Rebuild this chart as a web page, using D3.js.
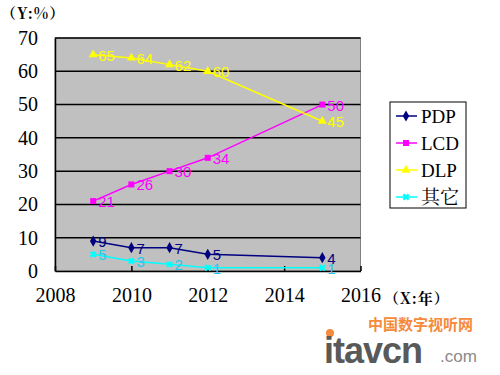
<!DOCTYPE html>
<html>
<head>
<meta charset="utf-8">
<script src="https://cdn.jsdelivr.net/npm/d3@7"></script>
<style>
  body { margin: 0; background: #fff; }
  svg { display: block; }
</style>
</head>
<body>
<svg width="500" height="375"></svg>
<script>
// data
var years = [2009, 2010, 2011, 2012, 2015]
var seriesNames = ["PDP", "LCD", "DLP", "其它"]
var pdp = [9, 7, 7, 5, 4]
var lcd = [21, 26, 30, 34, 50]
var dlp = [65, 64, 62, 60, 45]
var other = [5, 3, 2, 1, 1]
var xTicks = [2008, 2010, 2012, 2014, 2016]
var yTicks = [0, 10, 20, 30, 40, 50, 60, 70]

var lineColors = ["#000080", "#ff00ff", "#ffff00", "#00ffff"]
var labelColors = ["#000080", "#ff00ff", "#ffff00", "#22c8f0"]
var symbols = [d3.symbolDiamond, d3.symbolSquare, d3.symbolTriangle, d3.symbolCross]

var series = [pdp, lcd, dlp, other].map(function(vals, i) {
  return { name: seriesNames[i], values: vals.map(function(v, j) { return { x: years[j], y: v } }) }
})

var svg = d3.select("svg")

var x = d3.scaleLinear().domain([2008, 2016]).range([55, 360.5])
var y = d3.scaleLinear().domain([0, 70]).range([271, 38])

// plot background
svg.append("rect")
  .attr("x", x(2008)).attr("y", y(70))
  .attr("width", x(2016) - x(2008)).attr("height", y(0) - y(70))
  .attr("fill", "#c0c0c0")
  .attr("stroke", "#808080")

// gridlines
svg.append("g")
  .selectAll("line")
  .data(yTicks.slice(1))
  .enter().append("line")
    .attr("x1", x(2008)).attr("x2", x(2016))
    .attr("y1", function(d) { return y(d) }).attr("y2", function(d) { return y(d) })
    .attr("stroke", "#000").attr("stroke-width", 1.5)

// axes
var yAxis = svg.append("g")
  .attr("transform", "translate(" + x(2008) + ",0)")
  .call(d3.axisLeft(y).tickValues(yTicks).tickSize(0).tickPadding(17))
yAxis.select(".domain").attr("stroke", "#000").attr("stroke-width", 1.5)
yAxis.selectAll("text")
  .attr("font-family", "Liberation Serif").attr("font-size", 20).attr("fill", "#000")
yAxis.selectAll(".tick line").remove()

var xAxis = svg.append("g")
  .attr("transform", "translate(0," + y(0) + ")")
  .call(d3.axisBottom(x).tickValues(xTicks).tickFormat(d3.format("d")).tickSizeInner(-5).tickSizeOuter(0).tickPadding(17))
xAxis.select(".domain").attr("stroke", "#000").attr("stroke-width", 1.5)
xAxis.selectAll(".tick line").attr("stroke", "#000").attr("stroke-width", 1.5)
xAxis.selectAll("text")
  .attr("font-family", "Liberation Serif").attr("font-size", 20).attr("fill", "#000")

// axis titles
svg.append("text")
  .attr("x", 1).attr("y", 19)
  .attr("font-family", "Noto Serif CJK SC").attr("font-weight", "bold")
  .attr("font-size", 15).attr("letter-spacing", 1)
  .text("（Y:%）")
svg.append("text")
  .attr("x", 384).attr("y", 304)
  .attr("font-family", "Noto Serif CJK SC").attr("font-weight", "bold")
  .attr("font-size", 15).attr("letter-spacing", 1)
  .text("（X:年）")

// lines
var line = d3.line()
  .x(function(d) { return x(d.x) })
  .y(function(d) { return y(d.y) })

var sg = svg.selectAll(".series")
  .data(series)
  .enter().append("g")
    .attr("class", "series")

sg.append("path")
  .attr("d", function(d) { return line(d.values) })
  .attr("fill", "none")
  .attr("stroke", function(d, i) { return lineColors[i] })
  .attr("stroke-width", 1.5)

sg.each(function(s, i) {
  var g = d3.select(this)
  g.selectAll(".pt")
    .data(s.values)
    .enter().append("path")
      .attr("class", "pt")
      .attr("transform", function(d) {
        return "translate(" + x(d.x) + "," + y(d.y) + ")" + (i == 3 ? " rotate(45)" : "")
      })
      .attr("d", d3.symbol().type(symbols[i]).size(i == 3 ? 30 : 36))
      .attr("fill", lineColors[i])
  g.selectAll(".lbl")
    .data(s.values)
    .enter().append("text")
      .attr("class", "lbl")
      .attr("x", function(d) { return x(d.x) + 5 })
      .attr("y", function(d) { return y(d.y) + 6 })
      .attr("font-family", "Liberation Sans")
      .attr("font-size", 15)
      .attr("fill", labelColors[i])
      .text(function(d) { return d.y })
})

// legend
var legend = svg.append("g").attr("transform", "translate(390,102)")
legend.append("rect")
  .attr("width", 76).attr("height", 106)
  .attr("fill", "#fff").attr("stroke", "#000")

var li = legend.selectAll(".li")
  .data(series)
  .enter().append("g")
    .attr("transform", function(d, i) { return "translate(0," + (14 + i * 27) + ")" })
li.append("line")
  .attr("x1", 6).attr("x2", 27)
  .attr("stroke", function(d, i) { return lineColors[i] }).attr("stroke-width", 1.5)
li.append("path")
  .attr("transform", function(d, i) { return "translate(16,0)" + (i == 3 ? " rotate(45)" : "") })
  .attr("d", function(d, i) { return d3.symbol().type(symbols[i]).size(i == 3 ? 30 : 36)() })
  .attr("fill", function(d, i) { return lineColors[i] })
li.append("text")
  .attr("x", 31).attr("y", 7)
  .attr("font-family", function(d, i) { return i == 3 ? "Noto Serif CJK SC" : "Liberation Serif" })
  .attr("font-size", 19)
  .text(function(d) { return d.name })

// watermark
svg.append("text")
  .attr("x", 368).attr("y", 330)
  .attr("font-family", "Noto Sans CJK SC").attr("font-weight", "bold")
  .attr("font-size", 15).attr("fill", "#f58a3c")
  .text("中国数字视听网")
svg.append("circle")
  .attr("cx", 330).attr("cy", 333).attr("r", 4)
  .attr("fill", "#f58a3c")
svg.append("text")
  .attr("x", 324).attr("y", 363)
  .attr("font-family", "Liberation Sans").attr("font-weight", "bold")
  .attr("font-size", 36).attr("fill", "#595959").attr("letter-spacing", -1)
  .text("itavcn")
svg.append("text")
  .attr("x", 440).attr("y", 362)
  .attr("font-family", "Liberation Sans")
  .attr("font-size", 17).attr("fill", "#8a8a8a")
  .text(".com")
</script>
</body>
</html>
